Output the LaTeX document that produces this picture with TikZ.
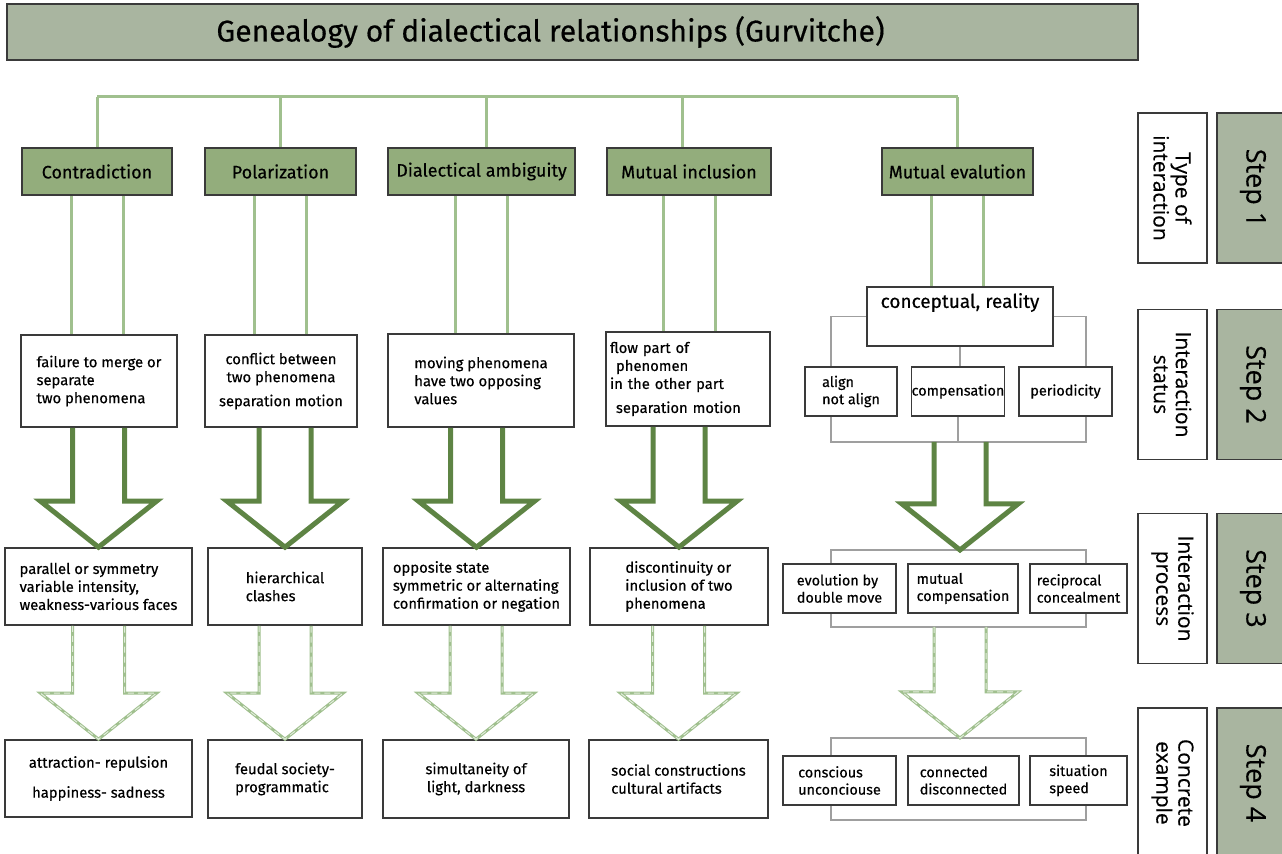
\documentclass[tikz,border=0pt]{standalone}
\usepackage{fontspec}
\setmainfont{Fira Sans}[FakeBold=0.4]
\newfontfamily\stepfont{Open Sans}[FakeBold=0.3]
\usetikzlibrary{calc}

\definecolor{stepgray}{RGB}{169,181,160}
\definecolor{typegreen}{RGB}{147,173,124}
\definecolor{linegreen}{RGB}{160,192,142}
\definecolor{arrowdark}{RGB}{94,132,68}
\definecolor{bordergray}{RGB}{58,58,58}

% open block arrow: #1 style, #2 start of shafts, #3 tip
\newcommand{\flowarrow}[3]{%
  \draw[#1] let \p1=(#3), \p2=(#2) in
    (\x1-13pt,\y2) -- (\x1-13pt,\y1+23pt) -- (\x1-29pt,\y1+23pt)
    -- (\x1,\y1) -- (\x1+29pt,\y1+23pt) -- (\x1+13pt,\y1+23pt) -- (\x1+13pt,\y2);}
% two parallel feed lines
\newcommand{\twinlines}[2]{%
  \draw[treeline] let \p1=(#1.south), \p2=(#2.north) in
    (\x1-13pt,\y1) -- (\x1-13pt,\y2) (\x1+13pt,\y1) -- (\x1+13pt,\y2);}

\begin{document}
\begin{tikzpicture}[x=0.5pt,y=-0.5pt,
    titlebox/.style={draw=bordergray, line width=1pt, fill=stepgray,
      minimum width=565.5pt, minimum height=28pt, font={\fontsize{15}{17}\selectfont}},
    typebox/.style={draw=bordergray, line width=0.8pt, fill=typegreen, inner sep=1pt,
      minimum height=23.5pt, font={\fontsize{9}{10.5}\selectfont}},
    infobox/.style={draw=bordergray, line width=0.8pt, fill=white, inner sep=2pt,
      align=left, font={\fontsize{7.4}{9}\selectfont}},
    smallbox/.style={infobox, minimum height=24.5pt, font={\fontsize{7.2}{8.6}\selectfont}},
    sidebox/.style={draw=bordergray, line width=0.8pt, fill=white, rotate=-90, inner sep=1pt,
      minimum width=75pt, minimum height=34.5pt, align=center,
      font={\stepfont\fontsize{10.5}{11}\selectfont}},
    stepbox/.style={draw=bordergray, line width=0.8pt, fill=stepgray, rotate=-90,
      minimum width=75pt, minimum height=36pt, font={\stepfont\fontsize{13.5}{15}\selectfont}},
    treeline/.style={draw=linegreen, line width=1.5pt},
    bracket/.style={draw=gray!75, line width=0.75pt},
    bigarrow/.style={draw=arrowdark, line width=2.5pt},
    dasharrow/.style={draw=linegreen, line width=1.5pt,
      postaction={draw=white, line width=0.5pt, opacity=0.7, dash pattern=on 3pt off 2pt}}]
\useasboundingbox (0,0) rectangle (1282,854);

\node[titlebox] (title) at (572.5,32) {Genealogy of dialectical relationships (Gurvitche)\hspace*{22pt}};

% step 1: type of interaction
\node[typebox, minimum width=75pt] (c1) at (97,171.5) {Contradiction};
\node[typebox, minimum width=75.5pt] (p1) at (280.5,171.5) {Polarization};
\node[typebox, minimum width=93.5pt] (d1) at (481.5,171.5) {Dialectical ambiguity};
\node[typebox, minimum width=82pt] (m1) at (689,171.5) {Mutual inclusion};
\node[typebox, minimum width=75.5pt] (e1) at (957.5,171.5) {Mutual evalution};

\coordinate (bus) at (0,97);
\draw[treeline] (c1.north |- bus) -- (e1.north |- bus);
\foreach \n/\s in {c1/0pt,p1/0pt,d1/2.25pt,m1/-3.5pt,e1/0pt}
  \draw[treeline] ([xshift=\s]\n.north) -- ([xshift=\s]\n.north |- bus);

% step 2: interaction status
\node[infobox, minimum width=78pt, minimum height=46pt] (c2) at (99,381)
  {failure to merge or\\separate\\two phenomena};
\node[infobox, align=center, minimum width=76pt, minimum height=46pt] (p2) at (281,381)
  {conflict between\\two phenomena\\[3pt]separation motion};
\node[infobox, minimum width=93pt, minimum height=46.5pt] (d2) at (481,380.5)
  {moving phenomena\\have two opposing\\values};
\node[infobox, text width=78pt, minimum height=47pt] (m2) at (688,379)
  {flow part of\\\hspace*{3pt}phenomen\\in the other part\\[3pt]\hspace*{3pt}separation motion};
\node[infobox, align=center, minimum width=93pt, minimum height=29.5pt, text depth=16pt,
  font={\fontsize{9.5}{11}\selectfont}] (e2) at (960,316.5) {conceptual, reality};
\node[smallbox, minimum width=46pt] (e2a) at (851,391.5) {align\\not align};
\node[smallbox, minimum width=46pt, inner sep=0pt] (e2b) at (958,391.5) {compensation};
\node[smallbox, minimum width=46.5pt] (e2c) at (1065.5,391.5) {periodicity};

\foreach \a/\b in {c1/c2,p1/p2,d1/d2,m1/m2,e1/e2}
  \twinlines{\a}{\b};

\coordinate (bl) at (831,0);
\coordinate (br) at (1086,0);
\coordinate (e2bot) at (960,442);
\draw[bracket] (e2.west) -| (bl |- e2a.north);
\draw[bracket] (e2.east) -| (br |- e2c.north);
\draw[bracket] (e2.south) -- (e2.south |- e2b.north);
\draw[bracket] (bl |- e2a.south) |- (e2bot) -| (br |- e2c.south);
\draw[bracket] (e2b.south) -- (e2b.south |- e2bot);

% step 3: interaction process
\node[infobox, minimum width=93.5pt, minimum height=38.5pt] (c3) at (98.5,586.5)
  {parallel or symmetry\\variable intensity,\\weakness-various faces};
\node[infobox, minimum width=77pt, minimum height=38.5pt] (p3) at (285,586.5)
  {hierarchical\\clashes};
\node[infobox, minimum width=93.5pt, minimum height=38.5pt] (d3) at (476.5,586.5)
  {opposite state\\symmetric or alternating\\confirmation or negation};
\node[infobox, minimum width=89pt, minimum height=38.5pt] (m3) at (679,586.5)
  {discontinuity or\\inclusion of two\\phenomena};
\node[smallbox, minimum width=56.5pt] (e3a) at (839.5,588.5) {evolution by\\double move};
\node[smallbox, minimum width=55pt] (e3b) at (963,588.5) {mutual\\compensation};
\node[smallbox, minimum width=48.5pt] (e3c) at (1078.5,588.5) {reciprocal\\concealment};

\coordinate (e3top) at (960,550);
\coordinate (e3bot) at (960,627);
\draw[bracket] (bl |- e3a.north) |- (e3top) -| (br |- e3c.north);
\draw[bracket] (bl |- e3a.south) |- (e3bot) -| (br |- e3c.south);

\foreach \a/\b in {c2/c3,p2/p3,d2/d3,m2/m3}
  \flowarrow{bigarrow}{\a.south}{\b.north};
\flowarrow{bigarrow}{e2bot}{e3top};

% step 4: concrete example
\node[infobox, align=center, minimum width=93.5pt, minimum height=38.5pt] (c4) at (98.5,778.5)
  {attraction- repulsion\\[6pt]happiness- sadness};
\node[infobox, minimum width=77pt, minimum height=39pt] (p4) at (285,779)
  {feudal society-\\programmatic};
\node[infobox, align=center, minimum width=93pt, minimum height=39pt] (d4) at (476,779)
  {simultaneity of\\light, darkness};
\node[infobox, minimum width=89.5pt, minimum height=39pt] (m4) at (678.5,779)
  {social constructions\\cultural artifacts};
\node[smallbox, minimum width=56.5pt] (e4a) at (839.5,780.5) {conscious\\unconciouse};
\node[smallbox, minimum width=55.5pt] (e4b) at (963.5,780.5) {connected\\disconnected};
\node[smallbox, minimum width=48.5pt] (e4c) at (1078.5,780.5) {situation\\speed};

\coordinate (e4top) at (960,738);
\coordinate (e4bot) at (960,820);
\draw[bracket] (bl |- e4a.north) |- (e4top) -| (br |- e4c.north);
\draw[bracket] (bl |- e4a.south) |- (e4bot) -| (br |- e4c.south);

\foreach \a/\b in {c3/c4,p3/p4,d3/d4,m3/m4}
  \flowarrow{dasharrow}{\a.south}{\b.north};
\flowarrow{dasharrow}{e3bot}{e4top};

% step column
\node[sidebox] (s1) at (1172.5,188) {Type of\\interaction};
\node[sidebox] (s2) at (1172.5,384.5) {Interaction\\status};
\node[sidebox] (s3) at (1172.5,588.5) {Interaction\\process};
\node[sidebox] (s4) at (1172.5,783) {Concrete\\example};
\node[stepbox] (t1) at (1253,188) {Step 1};
\node[stepbox] (t2) at (1253,384.5) {Step 2};
\node[stepbox] (t3) at (1253,588.5) {Step 3};
\node[stepbox] (t4) at (1253,783) {Step 4};
\end{tikzpicture}
\end{document}
